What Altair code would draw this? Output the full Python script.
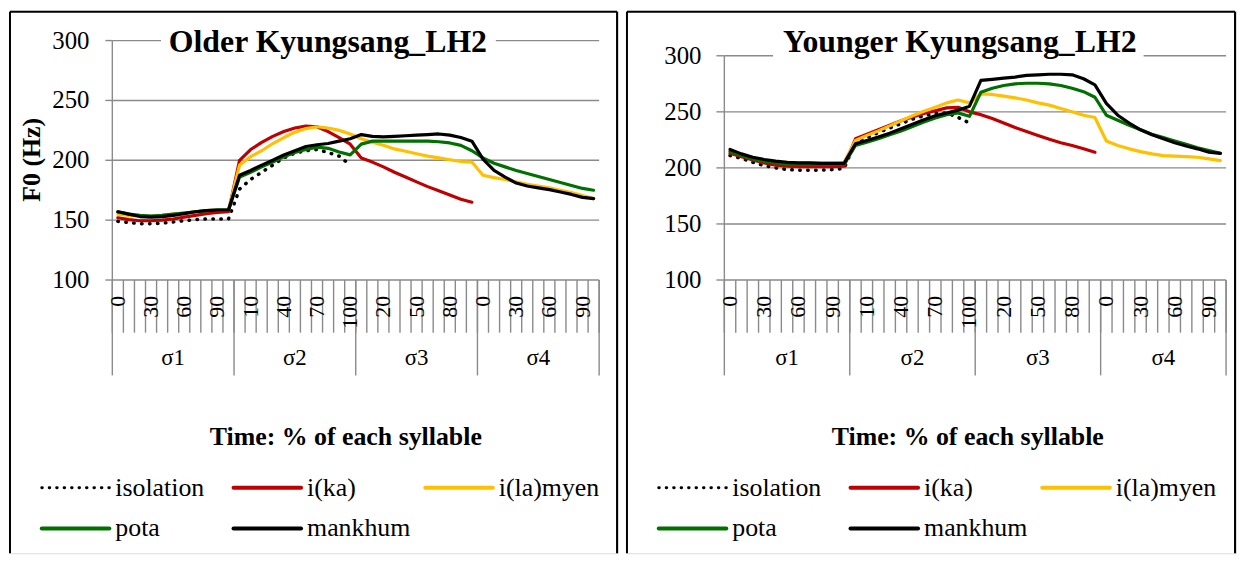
import altair as alt
import pandas as pd

# ---------------- data ----------------
syllables = ["σ1", "σ2", "σ3", "σ4"]
percents = [0, 10, 20, 30, 40, 50, 60, 70, 80, 90, 100]
series_names = ["isolation", "i(ka)", "i(la)myen", "pota", "mankhum"]
series_colors = ["#000000", "#C00000", "#FFC000", "#007000", "#000000"]
y_ticks = [100, 150, 200, 250, 300]

older_isolation = [149, 148, 147, 147, 147.5, 148.5, 149.5, 150.5, 151, 151, 151,
                   176, 184, 190, 196, 202, 206, 208, 209, 206.5, 203.5, 196]
older_ika = [152, 150.5, 149.5, 149.5, 150, 151, 152.5, 154, 155.5, 156.5, 157,
             200, 209, 215, 220, 224, 227, 228.5, 228, 224, 219, 213.5,
             202, 198.5, 194.5, 190, 186, 182, 178, 174.5, 171, 167.5, 165]
older_ilamyen = [155, 154, 153.5, 153.5, 154, 155, 156, 157, 158, 158.5, 158.5,
                 196, 203, 208, 214, 219, 223.5, 226.5, 228, 227, 225, 222,
                 218, 215, 212.5, 209.5, 207.5, 205.5, 203.5, 202, 200.5, 199, 198.5,
                 187.5, 185.5, 184, 182, 180, 178.5, 177, 175, 173, 170.5, 168]
older_pota = [157, 155, 154, 153.5, 154, 155, 156, 157, 158, 158.5, 158.5,
              186, 190, 194.5, 198.5, 203, 206.5, 209, 211, 210, 207, 204.5,
              213.5, 216, 216, 216, 216, 216, 216, 215.5, 214.5, 212.5, 208,
              202, 197.5, 194.5, 191.5, 189, 186.5, 184, 181.5, 179, 176.5, 175]
older_mankhum = [157, 155, 153, 152.5, 153, 154, 155.5, 157, 158, 158.5, 158.5,
                 187.5, 191.5, 196, 200, 204.5, 208, 211.5, 213, 214, 216, 218,
                 221.5, 220, 219.5, 220, 220.5, 221, 221.5, 222, 221, 219, 216,
                 201, 191.5, 186, 181, 178.5, 177, 175.5, 173.5, 171.5, 169, 168]

younger_isolation = [211, 208.5, 205, 202, 200, 198.5, 198, 198, 198, 198.5, 199.5,
                     223, 227, 231.5, 235.5, 239.5, 243.5, 246.5, 248.5, 249, 245, 240]
younger_ika = [213, 210, 207, 204.5, 202.5, 201.5, 201, 201, 201, 201, 201.5,
               226, 230, 234, 238, 242, 245.5, 248.5, 251, 253.5, 254, 250,
               247.5, 244, 240, 236, 232.5, 229, 225.5, 222.5, 220, 217, 214]
younger_ilamyen = [215, 211.5, 208.5, 206.5, 205.5, 205, 204.5, 204.5, 204.5, 204.5, 205,
                   224.5, 229, 233, 237.5, 242, 246.5, 250.5, 254, 258, 260.5, 258,
                   266, 265.5, 264, 262.5, 260.5, 258, 256, 253, 250, 247, 245,
                   224, 220, 217, 214.5, 212.5, 211, 210.5, 210, 209.5, 208, 206.5]
younger_pota = [214.5, 211, 208, 206, 204.5, 203.5, 203, 203, 203, 203, 203,
                220, 223, 226, 229.5, 233, 237, 241, 244.5, 247.5, 249, 246,
                267.5, 271, 273.5, 275, 275.5, 275.5, 275, 273.5, 271, 268, 263,
                247, 242.5, 238, 234, 230, 227, 224, 221, 218, 215.5, 213]
younger_mankhum = [216.5, 212.5, 209.5, 207.5, 206, 205, 204.5, 204.5, 204, 204, 204,
                   221.5, 224.5, 227.5, 231, 235, 239, 243, 246.5, 249, 251.5, 255,
                   278, 279, 280, 281, 282.5, 283, 283.5, 283.5, 283, 279.5, 274,
                   257.5, 247, 240, 234, 229.5, 226, 222.5, 219.5, 217, 214, 213]

# ---------------- style ----------------
FONT = "Liberation Serif"
GRID = "#8a8a8a"
N = len(syllables) * len(percents)


def one():
    return pd.DataFrame({"k": [0]})


def make_panel(series_vals, title, geo, ytitle=None):
    xs = alt.Scale(domain=[0, N], range=geo["xr"], nice=False, zero=False)
    ys = alt.Scale(domain=[100, 300], range=geo["yr"], nice=False, zero=False)
    layers = []

    # grid lines
    gdf = pd.DataFrame({"v": y_ticks, "a": 0, "b": N})
    layers.append(alt.Chart(gdf).mark_rule(color=GRID, strokeWidth=1.4).encode(
        x=alt.X("a:Q", scale=xs, axis=None), x2="b:Q",
        y=alt.Y("v:Q", scale=ys, axis=None)))
    # y axis line
    adf = pd.DataFrame({"a": [0], "lo": [100], "hi": [300]})
    layers.append(alt.Chart(adf).mark_rule(color=GRID, strokeWidth=1.4).encode(
        x=alt.X("a:Q", scale=xs, axis=None),
        y=alt.Y("lo:Q", scale=ys, axis=None), y2="hi:Q"))
    # y tick marks
    layers.append(alt.Chart(gdf).mark_rule(color=GRID, strokeWidth=1.4).encode(
        x=alt.value(geo["ytick"][0]), x2=alt.value(geo["ytick"][1]),
        y=alt.Y("v:Q", scale=ys, axis=None)))
    # y labels
    layers.append(alt.Chart(gdf).mark_text(
        align="right", baseline="middle", font=FONT, fontSize=25, color="black").encode(
        x=alt.value(geo["ylab"]), y=alt.Y("v:Q", scale=ys, axis=None), text="v:Q"))

    # x axis: category boundary ticks
    bdf = pd.DataFrame({"b": list(range(N + 1))})
    layers.append(alt.Chart(bdf).mark_rule(color=GRID, strokeWidth=1.4).encode(
        x=alt.X("b:Q", scale=xs, axis=None),
        y=alt.value(geo["axis_y"]), y2=alt.value(geo["tick_end"])))
    sdf = pd.DataFrame({"b": [i * len(percents) for i in range(len(syllables) + 1)]})
    layers.append(alt.Chart(sdf).mark_rule(color=GRID, strokeWidth=1.4).encode(
        x=alt.X("b:Q", scale=xs, axis=None),
        y=alt.value(geo["axis_y"]), y2=alt.value(geo["sep_end"])))
    # rotated percentage labels (every third category)
    cats = [(s, p) for s in syllables for p in percents]
    ldf = pd.DataFrame({"pos": [i + 0.5 for i in range(N)],
                        "lab": [str(p) for s, p in cats]})
    ldf = ldf[[i % 3 == 0 for i in range(N)]]
    layers.append(alt.Chart(ldf).mark_text(
        angle=270, align="right", baseline="middle", font=FONT, fontSize=22, color="black").encode(
        x=alt.X("pos:Q", scale=xs, axis=None), y=alt.value(geo["xlab_y"]), text="lab:N"))
    # syllable labels
    sldf = pd.DataFrame({"pos": [i * len(percents) + len(percents) / 2 for i in range(len(syllables))],
                         "lab": syllables})
    layers.append(alt.Chart(sldf).mark_text(
        align="center", baseline="middle", font=FONT, fontSize=23, color="black").encode(
        x=alt.X("pos:Q", scale=xs, axis=None), y=alt.value(geo["syl_y"]), text="lab:N"))

    # data lines
    for name, color in zip(series_names, series_colors):
        vals = series_vals[name]
        df = pd.DataFrame({"pos": [i + 0.5 for i in range(len(vals))], "f0": vals})
        if name == "isolation":
            mk = alt.Chart(df).mark_line(color=color, strokeWidth=3.5, strokeDash=[0.5, 7.5],
                                         strokeCap="round")
        else:
            mk = alt.Chart(df).mark_line(color=color, strokeWidth=3.2, strokeJoin="round",
                                         strokeCap="round")
        layers.append(mk.encode(x=alt.X("pos:Q", scale=xs, axis=None),
                                y=alt.Y("f0:Q", scale=ys, axis=None)))

    # title with white box over the top gridline
    layers.append(alt.Chart(one()).mark_rect(color="white").encode(
        x=alt.value(geo["tbox"][0]), x2=alt.value(geo["tbox"][1]),
        y=alt.value(14), y2=alt.value(50)))
    layers.append(alt.Chart(one()).mark_text(
        text=title, align="center", baseline="alphabetic", font=FONT, fontSize=32,
        fontWeight="bold", color="black").encode(x=alt.value(geo["title_x"]), y=alt.value(42)))

    # axis titles
    layers.append(alt.Chart(one()).mark_text(
        text="Time: % of each syllable", align="center", baseline="middle", font=FONT,
        fontSize=26, fontWeight="bold", color="black").encode(
        x=alt.value(geo["xtitle_x"]), y=alt.value(429)))
    if ytitle:
        layers.append(alt.Chart(one()).mark_text(
            text=ytitle, angle=270, align="center", baseline="middle", font=FONT,
            fontSize=26, fontWeight="bold", color="black").encode(
            x=alt.value(23), y=alt.value(150)))

    # legend
    cols = [33, 226, 419]
    rows = [480, 521]
    for k, (name, color) in enumerate(zip(series_names, series_colors)):
        x0 = cols[k % 3]
        yy = rows[k // 3]
        if name == "isolation":
            rl = alt.Chart(one()).mark_rule(color=color, strokeWidth=3, strokeDash=[0.5, 7],
                                            strokeCap="round")
        else:
            rl = alt.Chart(one()).mark_rule(color=color, strokeWidth=4, strokeCap="round")
        layers.append(rl.encode(x=alt.value(x0), x2=alt.value(x0 + 68), y=alt.value(yy)))
        layers.append(alt.Chart(one()).mark_text(
            text=name, align="left", baseline="middle", font=FONT, fontSize=26,
            color="black").encode(x=alt.value(x0 + 74), y=alt.value(yy)))

    # panel border (left, top, right)
    W, H = geo["W"], geo["H"]
    layers.append(alt.Chart(one()).mark_rule(color="black", strokeWidth=2).encode(
        x=alt.value(1), y=alt.value(1), y2=alt.value(H)))
    layers.append(alt.Chart(one()).mark_rule(color="black", strokeWidth=2).encode(
        x=alt.value(1), x2=alt.value(W - 1), y=alt.value(1)))
    layers.append(alt.Chart(one()).mark_rule(color="black", strokeWidth=2).encode(
        x=alt.value(W - 1), y=alt.value(1), y2=alt.value(H)))

    return alt.layer(*layers).properties(width=W, height=H)


H = 546
geo_left = dict(W=613, H=H, xr=[104, 594], yr=[271, 30], ytick=[97, 104], ylab=81,
                axis_y=271, tick_end=324, sep_end=367, xlab_y=287, syl_y=350,
                tbox=[153, 490], title_x=321, xtitle_x=339)
geo_right = dict(W=614, H=H, xr=[99, 604], yr=[271, 45.3], ytick=[91, 99], ylab=76,
                 axis_y=271, tick_end=324, sep_end=367, xlab_y=287, syl_y=350,
                 tbox=[148, 521], title_x=336, xtitle_x=344)

left = make_panel({"isolation": older_isolation, "i(ka)": older_ika,
                   "i(la)myen": older_ilamyen, "pota": older_pota,
                   "mankhum": older_mankhum},
                  "Older Kyungsang_LH2", geo_left, ytitle="F0 (Hz)")
right = make_panel({"isolation": younger_isolation, "i(ka)": younger_ika,
                    "i(la)myen": younger_ilamyen, "pota": younger_pota,
                    "mankhum": younger_mankhum},
                   "Younger Kyungsang_LH2", geo_right)

chart = alt.hconcat(left, right, spacing=6).resolve_scale(
    x="independent", y="independent").properties(padding=0).configure_view(
    stroke="transparent").configure(background="white")

chart.save("out.html", embed_options={"renderer": "svg", "actions": False})
